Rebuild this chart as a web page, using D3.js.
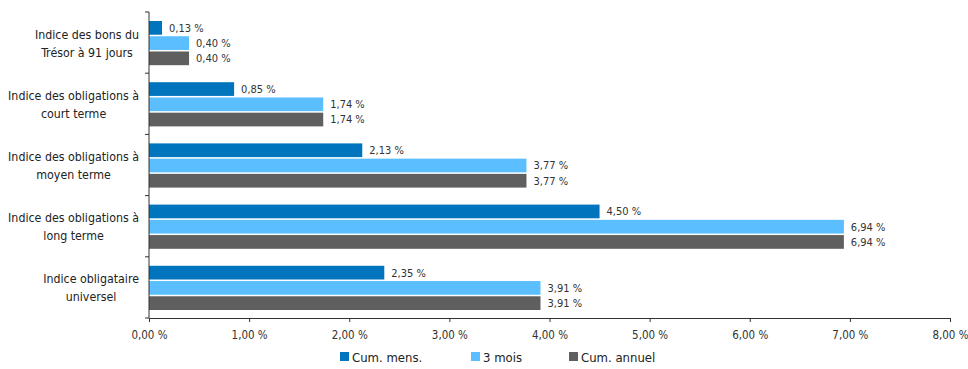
<!DOCTYPE html>
<html>
<head>
<meta charset="utf-8">
<script src="https://cdn.jsdelivr.net/npm/d3@7"></script>
<style>
  body { margin: 0; background: #fff; }
  svg { font-family: "DejaVu Sans Condensed", "DejaVu Sans", sans-serif; }
</style>
</head>
<body>
<div id="chart"></div>
<script>
const categories = [
  ["Indice des bons du", "Trésor à 91 jours"],
  ["Indice des obligations à", "court terme"],
  ["Indice des obligations à", "moyen terme"],
  ["Indice des obligations à", "long terme"],
  ["Indice obligataire", "universel"]
];
const seriesNames = ["Cum. mens.", "3 mois", "Cum. annuel"];
const cumMens = [0.13, 0.85, 2.13, 4.50, 2.35];
const troisMois = [0.40, 1.74, 3.77, 6.94, 3.91];
const cumAnnuel = [0.40, 1.74, 3.77, 6.94, 3.91];
const xTicks = [0, 1, 2, 3, 4, 5, 6, 7, 8];
const colors = ["#0075be", "#5bbfff", "#5f5f5f"];

const width = 968, height = 369;
const fmt = v => v.toFixed(2).replace(".", ",") + " %";

const svg = d3.select("#chart").append("svg")
  .attr("width", width)
  .attr("height", height);

const x = d3.scaleLinear().domain([0, 8]).range([149, 950]);
const y = d3.scaleBand().domain(d3.range(categories.length)).range([12, 318]);
const inner = d3.scaleBand().domain(d3.range(3)).range([9, y.bandwidth() - 8]).paddingInner(0.1);

const data = categories.map((c, i) => ({
  i, vals: [cumMens[i], troisMois[i], cumAnnuel[i]]
}));

// bars
const grp = svg.append("g").selectAll("g")
  .data(data)
  .join("g")
  .attr("transform", d => `translate(0,${y(d.i)})`);

grp.selectAll("rect")
  .data(d => d.vals.map((v, k) => ({ v, k })))
  .join("rect")
  .attr("x", x(0))
  .attr("y", d => inner(d.k))
  .attr("width", d => x(d.v) - x(0))
  .attr("height", inner.bandwidth())
  .attr("fill", d => colors[d.k]);

grp.selectAll("text")
  .data(d => d.vals.map((v, k) => ({ v, k })))
  .join("text")
  .attr("x", d => x(d.v) + 7)
  .attr("y", d => inner(d.k) + inner.bandwidth() / 2)
  .attr("dy", "0.35em")
  .attr("font-size", 11)
  .attr("fill", "#333")
  .text(d => fmt(d.v));

// x axis
const xAxis = svg.append("g")
  .attr("transform", "translate(0,318)")
  .call(d3.axisBottom(x).tickValues(xTicks).tickSize(4).tickPadding(9).tickFormat(fmt));
xAxis.attr("font-family", null);
xAxis.select(".domain").attr("stroke", "#333");
xAxis.selectAll(".tick line").attr("stroke", "#333");
xAxis.selectAll(".tick text").attr("font-size", 11.5).attr("fill", "#333");

// y axis with ticks at band boundaries
svg.append("line")
  .attr("x1", x(0)).attr("x2", x(0))
  .attr("y1", 12).attr("y2", 318)
  .attr("stroke", "#333");
svg.append("g").selectAll("line")
  .data(d3.range(categories.length + 1))
  .join("line")
  .attr("x1", x(0) - 4).attr("x2", x(0))
  .attr("y1", i => 12 + i * y.step())
  .attr("y2", i => 12 + i * y.step())
  .attr("stroke", "#333");

// category labels: block right-aligned, lines centred inside the block
const labels = svg.append("g").selectAll("text")
  .data(categories)
  .join("text")
  .attr("text-anchor", "middle")
  .attr("font-size", 12.3)
  .attr("fill", "#222")
  .attr("transform", (d, i) => `translate(0,${y(i) + y.bandwidth() / 2})`);
labels.selectAll("tspan")
  .data(d => d)
  .join("tspan")
  .attr("x", 0)
  .attr("y", (d, j) => j === 0 ? -4 : 14)
  .text(d => d);
labels.each(function () {
  const w = d3.max(d3.select(this).selectAll("tspan").nodes(), n => n.getComputedTextLength());
  d3.select(this).selectAll("tspan").attr("x", 139 - w / 2);
});

// legend
const legendX = [340, 471, 569];
const leg = svg.append("g").selectAll("g")
  .data(seriesNames)
  .join("g")
  .attr("transform", (d, i) => `translate(${legendX[i]},352)`);
leg.append("rect")
  .attr("width", 9).attr("height", 9)
  .attr("fill", (d, i) => colors[i]);
leg.append("text")
  .attr("x", 12).attr("y", 5)
  .attr("dy", "0.35em")
  .attr("font-size", 13)
  .attr("fill", "#222")
  .text(d => d);
</script>
</body>
</html>
